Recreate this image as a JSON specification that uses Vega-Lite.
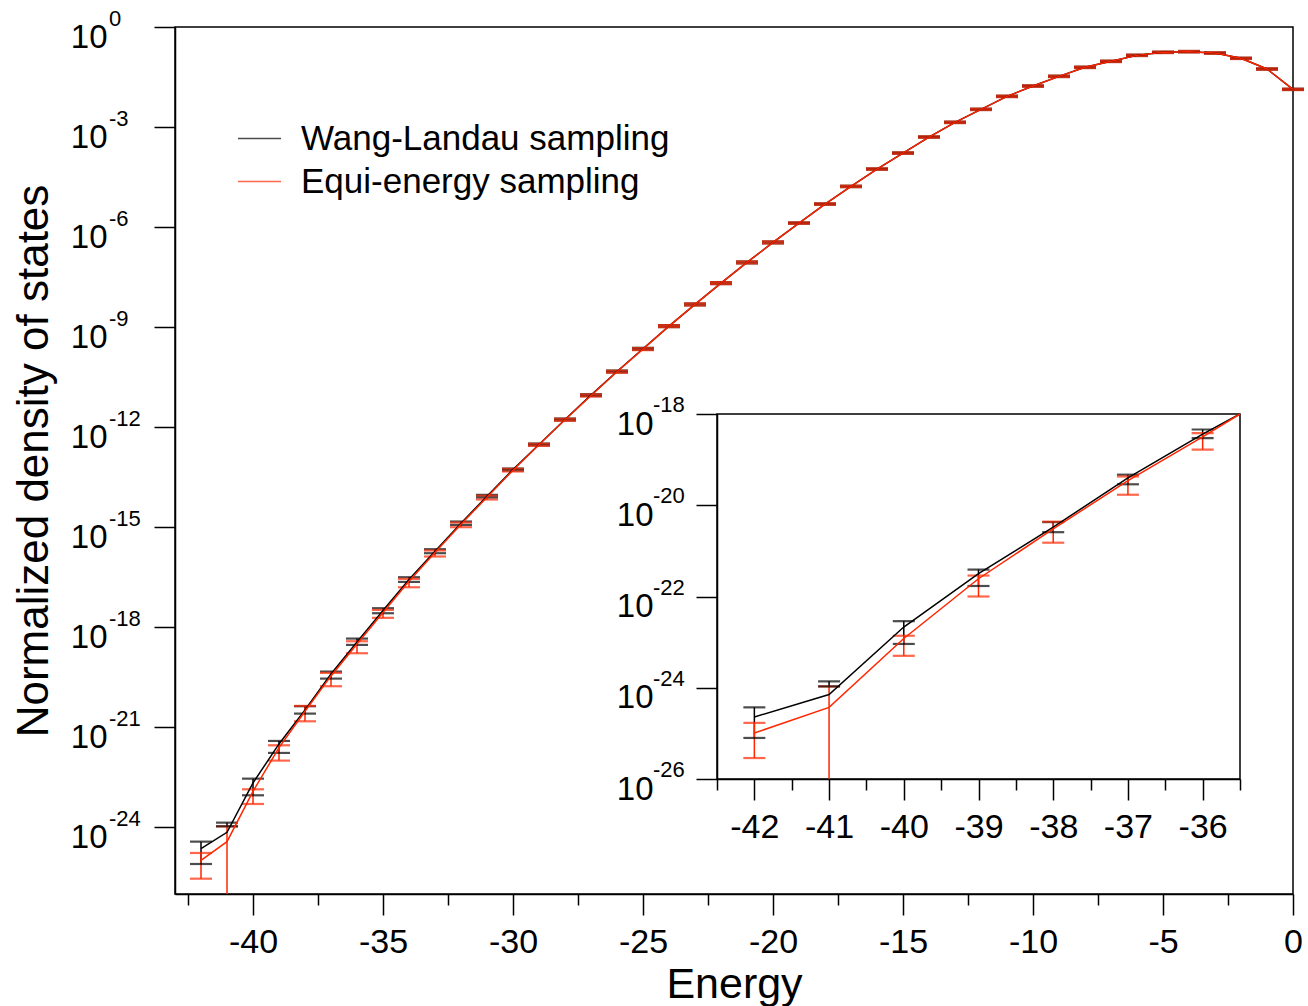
{
"$schema": "https://vega.github.io/schema/vega-lite/v6.json",
"width": 1118, "height": 867,
"autosize": {"type": "none"},
"padding": {"left": 175, "top": 27, "right": 15, "bottom": 112},
"background": "white",
"config": {
  "view": {"stroke": "#000", "strokeWidth": 1.5},
  "font": "Liberation Sans",
  "axis": {"grid": false, "domainColor": "#000", "domainWidth": 1.5, "tickColor": "#000", "tickWidth": 1.5, "labelColor": "#000", "titleColor": "#000", "labelFont": "Liberation Sans", "titleFont": "Liberation Sans", "titleFontWeight": "normal"},
  "legend": {"orient": "none", "legendX": 62, "legendY": 89, "title": null, "symbolType": "stroke", "symbolSize": 1849, "symbolStrokeWidth": 1.5, "labelFontSize": 35, "labelFont": "Liberation Sans", "labelColor": "#000", "labelOffset": 19, "rowPadding": 2, "padding": 0, "labelLimit": 0}
},
"datasets": {
  "dos": [
    {"E":-42,"s":"Wang-Landau sampling","v":2.29e-25,"lo":7.94e-26,"hi":3.72e-25},
    {"E":-41,"s":"Wang-Landau sampling","v":7.08e-25,"lo":1.07e-24,"hi":1.38e-24},
    {"E":-40,"s":"Wang-Landau sampling","v":2.14e-23,"lo":9.12e-24,"hi":2.88e-23},
    {"E":-39,"s":"Wang-Landau sampling","v":3.16e-22,"lo":1.70e-22,"hi":3.89e-22},
    {"E":-38,"s":"Wang-Landau sampling","v":3.31e-21,"lo":2.57e-21,"hi":4.27e-21},
    {"E":-37,"s":"Wang-Landau sampling","v":3.98e-20,"lo":2.88e-20,"hi":4.68e-20},
    {"E":-36,"s":"Wang-Landau sampling","v":3.63e-19,"lo":2.95e-19,"hi":4.57e-19},
    {"E":-35,"s":"Wang-Landau sampling","v":3.16e-18,"lo":2.63e-18,"hi":3.72e-18},
    {"E":-34,"s":"Wang-Landau sampling","v":2.69e-17,"lo":2.29e-17,"hi":3.16e-17},
    {"E":-33,"s":"Wang-Landau sampling","v":1.91e-16,"lo":1.66e-16,"hi":2.19e-16},
    {"E":-32,"s":"Wang-Landau sampling","v":1.32e-15,"lo":1.17e-15,"hi":1.48e-15},
    {"E":-31,"s":"Wang-Landau sampling","v":8.51e-15,"lo":7.76e-15,"hi":9.33e-15},
    {"E":-30,"s":"Wang-Landau sampling","v":5.37e-14,"lo":5.01e-14,"hi":5.75e-14},
    {"E":-29,"s":"Wang-Landau sampling","v":3.02e-13,"lo":2.82e-13,"hi":3.24e-13},
    {"E":-28,"s":"Wang-Landau sampling","v":1.70e-12,"lo":1.58e-12,"hi":1.82e-12},
    {"E":-27,"s":"Wang-Landau sampling","v":9.12e-12,"lo":8.51e-12,"hi":9.77e-12},
    {"E":-26,"s":"Wang-Landau sampling","v":4.68e-11,"lo":4.37e-11,"hi":5.01e-11},
    {"E":-25,"s":"Wang-Landau sampling","v":2.24e-10,"lo":2.09e-10,"hi":2.40e-10},
    {"E":-24,"s":"Wang-Landau sampling","v":1.07e-9,"lo":1.00e-9,"hi":1.15e-9},
    {"E":-23,"s":"Wang-Landau sampling","v":4.79e-9,"lo":4.47e-9,"hi":5.13e-9},
    {"E":-22,"s":"Wang-Landau sampling","v":2.09e-8,"lo":1.95e-8,"hi":2.24e-8},
    {"E":-21,"s":"Wang-Landau sampling","v":8.71e-8,"lo":8.13e-8,"hi":9.33e-8},
    {"E":-20,"s":"Wang-Landau sampling","v":3.47e-7,"lo":3.24e-7,"hi":3.72e-7},
    {"E":-19,"s":"Wang-Landau sampling","v":1.32e-6,"lo":1.26e-6,"hi":1.38e-6},
    {"E":-18,"s":"Wang-Landau sampling","v":4.90e-6,"lo":4.68e-6,"hi":5.13e-6},
    {"E":-17,"s":"Wang-Landau sampling","v":1.66e-5,"lo":1.58e-5,"hi":1.74e-5},
    {"E":-16,"s":"Wang-Landau sampling","v":5.50e-5,"lo":5.25e-5,"hi":5.75e-5},
    {"E":-15,"s":"Wang-Landau sampling","v":1.66e-4,"lo":1.58e-4,"hi":1.74e-4},
    {"E":-14,"s":"Wang-Landau sampling","v":5.01e-4,"lo":4.79e-4,"hi":5.25e-4},
    {"E":-13,"s":"Wang-Landau sampling","v":1.38e-3,"lo":1.32e-3,"hi":1.45e-3},
    {"E":-12,"s":"Wang-Landau sampling","v":3.39e-3,"lo":3.24e-3,"hi":3.55e-3},
    {"E":-11,"s":"Wang-Landau sampling","v":8.32e-3,"lo":7.94e-3,"hi":8.71e-3},
    {"E":-10,"s":"Wang-Landau sampling","v":1.70e-2,"lo":1.62e-2,"hi":1.78e-2},
    {"E":-9,"s":"Wang-Landau sampling","v":3.31e-2,"lo":3.16e-2,"hi":3.47e-2},
    {"E":-8,"s":"Wang-Landau sampling","v":6.17e-2,"lo":5.89e-2,"hi":6.46e-2},
    {"E":-7,"s":"Wang-Landau sampling","v":9.33e-2,"lo":8.91e-2,"hi":9.77e-2},
    {"E":-6,"s":"Wang-Landau sampling","v":0.141,"lo":0.135,"hi":0.148},
    {"E":-5,"s":"Wang-Landau sampling","v":0.174,"lo":0.166,"hi":0.182},
    {"E":-4,"s":"Wang-Landau sampling","v":0.182,"lo":0.174,"hi":0.191},
    {"E":-3,"s":"Wang-Landau sampling","v":0.166,"lo":0.158,"hi":0.174},
    {"E":-2,"s":"Wang-Landau sampling","v":0.115,"lo":0.110,"hi":0.120},
    {"E":-1,"s":"Wang-Landau sampling","v":0.0550,"lo":0.0525,"hi":0.0575},
    {"E":0,"s":"Wang-Landau sampling","v":0.0135,"lo":0.0129,"hi":0.0141},
    {"E":-42,"s":"Equi-energy sampling","v":1.02e-25,"lo":2.88e-26,"hi":1.70e-25},
    {"E":-41,"s":"Equi-energy sampling","v":3.72e-25,"lo":1e-40,"hi":1.07e-24},
    {"E":-40,"s":"Equi-energy sampling","v":1.20e-23,"lo":5.01e-24,"hi":1.38e-23},
    {"E":-39,"s":"Equi-energy sampling","v":2.45e-22,"lo":1.00e-22,"hi":2.88e-22},
    {"E":-38,"s":"Equi-energy sampling","v":3.02e-21,"lo":1.51e-21,"hi":4.37e-21},
    {"E":-37,"s":"Equi-energy sampling","v":3.47e-20,"lo":1.70e-20,"hi":4.27e-20},
    {"E":-36,"s":"Equi-energy sampling","v":3.16e-19,"lo":1.66e-19,"hi":3.80e-19},
    {"E":-35,"s":"Equi-energy sampling","v":2.75e-18,"lo":1.91e-18,"hi":3.31e-18},
    {"E":-34,"s":"Equi-energy sampling","v":2.40e-17,"lo":1.58e-17,"hi":2.82e-17},
    {"E":-33,"s":"Equi-energy sampling","v":1.74e-16,"lo":1.32e-16,"hi":2.00e-16},
    {"E":-32,"s":"Equi-energy sampling","v":1.23e-15,"lo":1.00e-15,"hi":1.38e-15},
    {"E":-31,"s":"Equi-energy sampling","v":7.94e-15,"lo":6.76e-15,"hi":8.71e-15},
    {"E":-30,"s":"Equi-energy sampling","v":5.13e-14,"lo":4.68e-14,"hi":5.62e-14},
    {"E":-29,"s":"Equi-energy sampling","v":2.95e-13,"lo":2.75e-13,"hi":3.16e-13},
    {"E":-28,"s":"Equi-energy sampling","v":1.66e-12,"lo":1.55e-12,"hi":1.78e-12},
    {"E":-27,"s":"Equi-energy sampling","v":8.91e-12,"lo":8.32e-12,"hi":9.55e-12},
    {"E":-26,"s":"Equi-energy sampling","v":4.57e-11,"lo":4.27e-11,"hi":4.90e-11},
    {"E":-25,"s":"Equi-energy sampling","v":2.19e-10,"lo":2.04e-10,"hi":2.34e-10},
    {"E":-24,"s":"Equi-energy sampling","v":1.07e-9,"lo":1.00e-9,"hi":1.15e-9},
    {"E":-23,"s":"Equi-energy sampling","v":4.79e-9,"lo":4.47e-9,"hi":5.13e-9},
    {"E":-22,"s":"Equi-energy sampling","v":2.09e-8,"lo":1.95e-8,"hi":2.24e-8},
    {"E":-21,"s":"Equi-energy sampling","v":8.71e-8,"lo":8.13e-8,"hi":9.33e-8},
    {"E":-20,"s":"Equi-energy sampling","v":3.47e-7,"lo":3.24e-7,"hi":3.72e-7},
    {"E":-19,"s":"Equi-energy sampling","v":1.32e-6,"lo":1.26e-6,"hi":1.38e-6},
    {"E":-18,"s":"Equi-energy sampling","v":4.90e-6,"lo":4.68e-6,"hi":5.13e-6},
    {"E":-17,"s":"Equi-energy sampling","v":1.66e-5,"lo":1.58e-5,"hi":1.74e-5},
    {"E":-16,"s":"Equi-energy sampling","v":5.50e-5,"lo":5.25e-5,"hi":5.75e-5},
    {"E":-15,"s":"Equi-energy sampling","v":1.66e-4,"lo":1.58e-4,"hi":1.74e-4},
    {"E":-14,"s":"Equi-energy sampling","v":5.01e-4,"lo":4.79e-4,"hi":5.25e-4},
    {"E":-13,"s":"Equi-energy sampling","v":1.38e-3,"lo":1.32e-3,"hi":1.45e-3},
    {"E":-12,"s":"Equi-energy sampling","v":3.39e-3,"lo":3.24e-3,"hi":3.55e-3},
    {"E":-11,"s":"Equi-energy sampling","v":8.32e-3,"lo":7.94e-3,"hi":8.71e-3},
    {"E":-10,"s":"Equi-energy sampling","v":1.70e-2,"lo":1.62e-2,"hi":1.78e-2},
    {"E":-9,"s":"Equi-energy sampling","v":3.31e-2,"lo":3.16e-2,"hi":3.47e-2},
    {"E":-8,"s":"Equi-energy sampling","v":6.17e-2,"lo":5.89e-2,"hi":6.46e-2},
    {"E":-7,"s":"Equi-energy sampling","v":9.33e-2,"lo":8.91e-2,"hi":9.77e-2},
    {"E":-6,"s":"Equi-energy sampling","v":0.141,"lo":0.135,"hi":0.148},
    {"E":-5,"s":"Equi-energy sampling","v":0.174,"lo":0.166,"hi":0.182},
    {"E":-4,"s":"Equi-energy sampling","v":0.182,"lo":0.174,"hi":0.191},
    {"E":-3,"s":"Equi-energy sampling","v":0.166,"lo":0.158,"hi":0.174},
    {"E":-2,"s":"Equi-energy sampling","v":0.115,"lo":0.110,"hi":0.120},
    {"E":-1,"s":"Equi-energy sampling","v":0.0550,"lo":0.0525,"hi":0.0575},
    {"E":0,"s":"Equi-energy sampling","v":0.0135,"lo":0.0129,"hi":0.0141}
  ],
  "mainexp": [
    {"p":1,"k":"0"},{"p":1e-3,"k":"-3"},{"p":1e-6,"k":"-6"},{"p":1e-9,"k":"-9"},{"p":1e-12,"k":"-12"},
    {"p":1e-15,"k":"-15"},{"p":1e-18,"k":"-18"},{"p":1e-21,"k":"-21"},{"p":1e-24,"k":"-24"}
  ],
  "insetexp": [
    {"p":1e-18,"k":"-18"},{"p":1e-20,"k":"-20"},{"p":1e-22,"k":"-22"},{"p":1e-24,"k":"-24"},{"p":1e-26,"k":"-26"}
  ]
},
"data": {"name": "dos"},
"layer": [
  {
    "layer": [
      {"mark": {"type": "rule", "strokeWidth": 1.5},
       "encoding": {
         "x": {"field": "E", "type": "quantitative", "scale": {"domain": [-43, 0], "nice": false, "zero": false}, "axis": null},
         "y": {"field": "lo", "type": "quantitative", "scale": {"type": "log", "domain": [1e-26, 1], "nice": false, "clamp": true}},
         "y2": {"field": "hi"},
         "color": {"field": "s", "type": "nominal", "scale": {"domain": ["Wang-Landau sampling", "Equi-energy sampling"], "range": ["#000000", "#ff2600"]}}
       }},
      {"mark": {"type": "tick", "orient": "horizontal", "size": 22, "thickness": 2.2},
       "encoding": {
         "x": {"field": "E", "type": "quantitative", "scale": {"domain": [-43, 0], "nice": false, "zero": false}, "axis": null},
         "y": {"field": "hi", "type": "quantitative", "scale": {"type": "log", "domain": [1e-26, 1], "nice": false, "clamp": true}},
         "color": {"field": "s", "type": "nominal"}
       }},
      {"transform": [{"filter": "datum.lo > 1e-30"}],
       "mark": {"type": "tick", "orient": "horizontal", "size": 22, "thickness": 2.2},
       "encoding": {
         "x": {"field": "E", "type": "quantitative", "scale": {"domain": [-43, 0], "nice": false, "zero": false},
               "axis": {"orient": "bottom", "values": [-42.5, -37.5, -32.5, -27.5, -22.5, -17.5, -12.5, -7.5, -2.5], "tickSize": 11, "labels": false, "domain": false, "title": null}},
         "y": {"field": "lo", "type": "quantitative", "scale": {"type": "log", "domain": [1e-26, 1], "nice": false, "clamp": true}},
         "color": {"field": "s", "type": "nominal"}
       }},
      {"mark": {"type": "line", "strokeWidth": 1.5},
       "encoding": {
         "x": {"field": "E", "type": "quantitative", "scale": {"domain": [-43, 0], "nice": false, "zero": false},
               "axis": {"orient": "bottom", "values": [-40, -35, -30, -25, -20, -15, -10, -5, 0], "tickSize": 21, "labelFontSize": 34, "labelPadding": 10, "labelFlush": false, "labelExpr": "'' + datum.value", "title": "Energy", "titleFontSize": 43, "titleX": 559, "titleY": 103, "titleBaseline": "alphabetic", "titleAlign": "center"}},
         "y": {"field": "v", "type": "quantitative", "scale": {"type": "log", "domain": [1e-26, 1], "nice": false, "clamp": true},
               "axis": {"orient": "left", "values": [1, 1e-3, 1e-6, 1e-9, 1e-12, 1e-15, 1e-18, 1e-21, 1e-24], "tickSize": 21, "labelExpr": "'10'", "labelFontSize": 33, "labelAlign": "right", "labelBaseline": "alphabetic", "labelOffset": 20, "labelPadding": 47, "labelOverlap": false, "title": "Normalized density of states", "titleFontSize": 44, "titleAngle": 270, "titleX": -128, "titleY": 433.5, "titleBaseline": "alphabetic", "titleAlign": "center"}},
         "color": {"field": "s", "type": "nominal"}
       }},
      {"data": {"name": "mainexp"},
       "mark": {"type": "text", "align": "left", "baseline": "alphabetic", "dx": -66, "dy": -1, "fontSize": 22, "font": "Liberation Sans", "color": "#000"},
       "encoding": {
         "x": {"datum": -43, "type": "quantitative", "scale": {"domain": [-43, 0], "nice": false, "zero": false}, "axis": null},
         "y": {"field": "p", "type": "quantitative", "scale": {"type": "log", "domain": [1e-26, 1], "nice": false, "clamp": true}},
         "text": {"field": "k"}
       }}
    ],
    "resolve": {"axis": {"x": "independent"}}
  },
  {
    "layer": [
      {"data": {"values": [{}]},
       "mark": {"type": "rect", "filled": false, "stroke": "#000", "strokeWidth": 1.5},
       "encoding": {
         "x": {"datum": -42.5, "type": "quantitative", "scale": {"domain": [-42.5, -35.5], "range": [542, 1065], "nice": false, "zero": false, "clamp": true}, "axis": null},
         "x2": {"datum": -35.5},
         "y": {"datum": 1e-26, "type": "quantitative", "scale": {"type": "log", "domain": [1e-26, 1e-18], "range": [752, 387], "nice": false, "clamp": true}},
         "y2": {"datum": 1e-18}
       }},
      {"transform": [{"filter": "datum.E >= -42 && datum.E <= -36"}],
       "mark": {"type": "rule", "strokeWidth": 1.5},
       "encoding": {
         "x": {"field": "E", "type": "quantitative", "scale": {"domain": [-42.5, -35.5], "range": [542, 1065], "nice": false, "zero": false, "clamp": true}, "axis": null},
         "y": {"field": "lo", "type": "quantitative", "scale": {"type": "log", "domain": [1e-26, 1e-18], "range": [752, 387], "nice": false, "clamp": true}},
         "y2": {"field": "hi"},
         "color": {"field": "s", "type": "nominal"}
       }},
      {"transform": [{"filter": "datum.E >= -42 && datum.E <= -36"}],
       "mark": {"type": "tick", "orient": "horizontal", "size": 22, "thickness": 2.2},
       "encoding": {
         "x": {"field": "E", "type": "quantitative", "scale": {"domain": [-42.5, -35.5], "range": [542, 1065], "nice": false, "zero": false, "clamp": true}, "axis": null},
         "y": {"field": "hi", "type": "quantitative", "scale": {"type": "log", "domain": [1e-26, 1e-18], "range": [752, 387], "nice": false, "clamp": true}},
         "color": {"field": "s", "type": "nominal"}
       }},
      {"transform": [{"filter": "datum.E >= -42 && datum.E <= -36 && datum.lo > 1e-30"}],
       "mark": {"type": "tick", "orient": "horizontal", "size": 22, "thickness": 2.2},
       "encoding": {
         "x": {"field": "E", "type": "quantitative", "scale": {"domain": [-42.5, -35.5], "range": [542, 1065], "nice": false, "zero": false, "clamp": true},
               "axis": {"orient": "bottom", "offset": -115, "values": [-42.5, -41.5, -40.5, -39.5, -38.5, -37.5, -36.5, -35.5], "tickSize": 11, "labels": false, "domain": false, "title": null}},
         "y": {"field": "lo", "type": "quantitative", "scale": {"type": "log", "domain": [1e-26, 1e-18], "range": [752, 387], "nice": false, "clamp": true}},
         "color": {"field": "s", "type": "nominal"}
       }},
      {"transform": [{"filter": "datum.E >= -42 && datum.E <= -35"}],
       "mark": {"type": "line", "strokeWidth": 1.5},
       "encoding": {
         "x": {"field": "E", "type": "quantitative", "scale": {"domain": [-42.5, -35.5], "range": [542, 1065], "nice": false, "zero": false, "clamp": true},
               "axis": {"orient": "bottom", "offset": -115, "values": [-42, -41, -40, -39, -38, -37, -36], "tickSize": 21, "labelFontSize": 34, "labelPadding": 10, "labelFlush": false, "labelExpr": "'' + datum.value", "title": null}},
         "y": {"field": "v", "type": "quantitative", "scale": {"type": "log", "domain": [1e-26, 1e-18], "range": [752, 387], "nice": false, "clamp": true},
               "axis": {"orient": "left", "offset": -542, "values": [1e-18, 1e-20, 1e-22, 1e-24, 1e-26], "tickSize": 21, "labelExpr": "'10'", "labelFontSize": 33, "labelAlign": "right", "labelBaseline": "alphabetic", "labelOffset": 20, "labelPadding": 43, "labelOverlap": false, "title": null}},
         "color": {"field": "s", "type": "nominal"}
       }},
      {"data": {"name": "insetexp"},
       "mark": {"type": "text", "align": "left", "baseline": "alphabetic", "dx": -64, "dy": -2, "fontSize": 22, "font": "Liberation Sans", "color": "#000"},
       "encoding": {
         "x": {"datum": -42.5, "type": "quantitative", "scale": {"domain": [-42.5, -35.5], "range": [542, 1065], "nice": false, "zero": false, "clamp": true}, "axis": null},
         "y": {"field": "p", "type": "quantitative", "scale": {"type": "log", "domain": [1e-26, 1e-18], "range": [752, 387], "nice": false, "clamp": true}},
         "text": {"field": "k"}
       }}
    ],
    "resolve": {"axis": {"x": "independent"}}
  }
],
"resolve": {"scale": {"x": "independent", "y": "independent"}}
}
